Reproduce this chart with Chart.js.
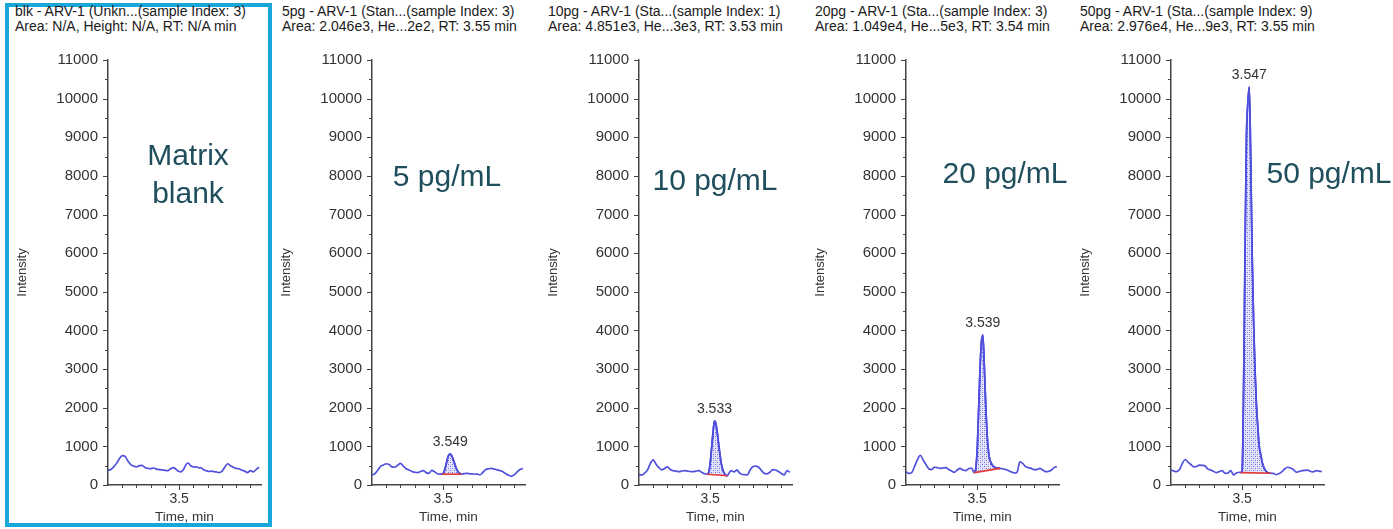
<!DOCTYPE html>
<html><head><meta charset="utf-8">
<script src="https://cdn.jsdelivr.net/npm/chart.js@4.4.1/dist/chart.umd.min.js"></script>
<style>
html,body{margin:0;padding:0;background:#fff;width:1393px;height:529px;overflow:hidden;font-family:"Liberation Sans",Arial,sans-serif;}
canvas{position:absolute;}
.ttl{position:absolute;font-size:14px;color:#1a1a1a;white-space:nowrap;line-height:15px;}
.ann{position:absolute;font-size:30px;color:#1f4e5c;white-space:nowrap;text-align:center;transform:translate(-50%,-50%);line-height:38px;}
#box{position:absolute;left:5px;top:3px;width:259px;height:516px;border:4px solid #17a7d8;}
</style></head><body>
<div id="box"></div>
<script>
// ---- data ----
const times = [3.00,3.02,3.04,3.06,3.08,3.10,3.12,3.14,3.16,3.18,3.20,3.22,3.24,3.26,3.28,3.30,3.32,3.34,3.36,3.38,3.40,3.42,3.44,3.46,3.48,
  3.49,3.50,3.51,3.52,3.53,3.54,3.55,3.56,3.57,3.58,3.59,3.60,3.61,3.62,3.63,3.64,3.65,3.66,3.67,3.68,3.69,3.70,3.71,
  3.72,3.74,3.76,3.78,3.80,3.82,3.84,3.86,3.88,3.90,3.92,3.94,3.96,3.98,4.00,4.02,4.04,4.06];

const blankTrace = [380,400,470,560,680,760,740,620,530,490,470,500,510,450,430,420,440,410,400,390,380,370,420,450,400,
  370,350,340,360,400,470,540,570,550,500,480,470,460,470,460,440,450,430,400,380,370,360,350,
  360,350,340,320,350,460,550,500,460,430,420,380,360,320,370,340,400,460];

const pg5Trace = [260,290,380,480,520,550,530,470,460,510,560,490,420,390,350,330,320,350,370,320,300,380,340,290,280,
  280,300,380,520,680,780,800,760,670,560,450,370,320,290,280,290,295,300,300,295,290,290,285,
  285,280,265,330,400,420,430,410,390,370,345,290,250,225,270,340,400,430];

const pg10Trace = [260,260,310,390,560,650,540,450,390,430,470,400,370,360,345,360,370,360,350,345,360,370,330,290,280,
  330,560,950,1350,1660,1600,1350,1050,760,520,380,300,250,240,290,350,370,350,340,370,390,340,300,
  280,270,260,380,480,490,460,380,300,290,330,400,390,350,300,260,370,330];

const pg20Trace = [345,300,320,480,650,770,650,530,420,400,460,450,430,440,450,400,360,330,390,430,390,370,420,440,320,
  420,900,1900,3000,3700,3880,3100,2100,1300,850,650,560,500,470,450,440,435,430,425,420,410,400,390,
  370,340,310,330,600,560,475,450,430,400,400,430,390,345,350,380,450,480];

const pg50Trace = [390,360,345,400,560,660,590,530,470,480,515,510,490,410,390,350,320,350,370,300,310,370,260,310,330,
  320,400,2500,6000,9000,9900,10300,8500,6000,4300,3000,2100,1500,1000,800,600,480,400,350,320,310,305,300,
  300,265,300,345,420,460,440,400,330,350,370,380,385,350,340,370,360,345];

const titleLine1 = ["blk - ARV-1 (Unkn...(sample Index: 3)","5pg - ARV-1 (Stan...(sample Index: 3)","10pg - ARV-1 (Sta...(sample Index: 1)","20pg - ARV-1 (Sta...(sample Index: 3)","50pg - ARV-1 (Sta...(sample Index: 9)"];
const titleLine2 = ["Area: N/A, Height: N/A, RT: N/A min","Area: 2.046e3, He...2e2, RT: 3.55 min","Area: 4.851e3, He...3e3, RT: 3.53 min","Area: 1.049e4, He...5e3, RT: 3.54 min","Area: 2.976e4, He...9e3, RT: 3.55 min"];
const concLabels = ["Matrix<br>blank","5 pg/mL","10 pg/mL","20 pg/mL","50 pg/mL"];
const peakRT = [null,"3.549","3.533","3.539","3.547"];
const peakStart = [null,3.49,3.48,3.48,3.49];
const peakEnd = [null,3.63,3.62,3.66,3.70];
const yTickValues = [0,1000,2000,3000,4000,5000,6000,7000,8000,9000,10000,11000];
const yMinorTicks = [500,1500,2500,3500,4500,5500,6500,7500,8500,9500,10500];
const xLabelTicks = [3.5];
const xMinorTicks = [3.1,3.2,3.3,3.4,3.6,3.7,3.8,3.9,4.0];

const traces = [blankTrace,pg5Trace,pg10Trace,pg20Trace,pg50Trace];

// ---- layout ----
const axisX = [108,372,639,906,1171];
const titleX = [15,282,548,815,1080];
const annPos = [[188,174],[447,176],[715,180],[1005,173],[1329,173]];
const FONT = '"Liberation Sans", Arial, sans-serif';

function makePattern(){
  const c = document.createElement('canvas'); c.width=4; c.height=4;
  const g = c.getContext('2d');
  g.fillStyle='#e6e6fb'; g.fillRect(0,0,4,4);
  g.fillStyle='#6e6ee2'; g.fillRect(0,0,1,1); g.fillRect(2,2,1,1);
  g.fillStyle='#b4b4ef'; g.fillRect(2,0,1,1); g.fillRect(0,2,1,1);
  return g.createPattern(c,'repeat');
}

const tickPlugin = {
  id:'customTicks',
  afterDraw(chart){
    const ctx = chart.ctx, x = chart.scales.x, y = chart.scales.y, ca = chart.chartArea;
    ctx.save();
    ctx.strokeStyle = '#444'; ctx.lineWidth = 1;
    ctx.beginPath();
    yTickValues.forEach(v=>{ const py = Math.round(y.getPixelForValue(v))+0.5; ctx.moveTo(ca.left-5,py); ctx.lineTo(ca.left,py); });
    yMinorTicks.forEach(v=>{ const py = Math.round(y.getPixelForValue(v))+0.5; ctx.moveTo(ca.left-3,py); ctx.lineTo(ca.left,py); });
    xLabelTicks.forEach(v=>{ const px = Math.round(x.getPixelForValue(v))+0.5; ctx.moveTo(px,ca.bottom); ctx.lineTo(px,ca.bottom+5); });
    xMinorTicks.forEach(v=>{ const px = Math.round(x.getPixelForValue(v))+0.5; ctx.moveTo(px,ca.bottom); ctx.lineTo(px,ca.bottom+3); });
    ctx.stroke();
    const i = chart.options.plugins.customTicks.panel;
    if (peakRT[i]) {
      const tr = traces[i];
      let best = -1;
      times.forEach((t,k)=>{ if (t>=peakStart[i]-1e-9 && t<=peakEnd[i]+1e-9 && (best<0 || tr[k]>tr[best])) best = k; });
      const px = x.getPixelForValue(times[best]), py = y.getPixelForValue(tr[best]);
      ctx.fillStyle = '#333'; ctx.font = '14px '+FONT; ctx.textAlign='center'; ctx.textBaseline='middle';
      ctx.fillText(peakRT[i], px, py-12);
    }
    ctx.restore();
  }
};

const pattern = makePattern();

for (let i=0;i<5;i++){
  const t1 = document.createElement('div'); t1.className='ttl'; t1.style.left=titleX[i]+'px'; t1.style.top='4px'; t1.textContent=titleLine1[i]; document.body.appendChild(t1);
  const t2 = document.createElement('div'); t2.className='ttl'; t2.style.left=titleX[i]+'px'; t2.style.top='19px'; t2.textContent=titleLine2[i]; document.body.appendChild(t2);
  const a = document.createElement('div'); a.className='ann'; a.style.left=annPos[i][0]+'px'; a.style.top=annPos[i][1]+'px'; a.innerHTML=concLabels[i]; document.body.appendChild(a);

  const cv = document.createElement('canvas');
  cv.width = 260; cv.height = 486;
  cv.style.left = (axisX[i]-100)+'px'; cv.style.top='40px';
  document.body.insertBefore(cv, a);

  const tr = traces[i];
  const pts = times.map((t,k)=>({x:t,y:tr[k]}));
  const datasets = [{data:pts, borderColor:'#5050de', borderWidth:1.7, pointRadius:0, cubicInterpolationMode:'monotone', fill:false, order:1}];
  if (peakStart[i]!=null){
    const seg = pts.filter(p=>p.x>=peakStart[i]-1e-9 && p.x<=peakEnd[i]+1e-9);
    const base = [seg[0], seg[seg.length-1]].map(p=>({x:p.x,y:p.y}));
    datasets.push({data:seg, borderColor:'#3030d0', borderWidth:1.7, pointRadius:0, cubicInterpolationMode:'monotone', fill:2, backgroundColor:pattern, order:2});
    datasets.push({data:base, borderColor:'#e53935', borderWidth:1.6, pointRadius:0, fill:false, order:0});
  }

  new Chart(cv, {
    type:'line',
    data:{datasets},
    options:{
      responsive:false, animation:false, devicePixelRatio:1,
      layout:{padding:{left:0,right:7,top:20,bottom:0}},
      plugins:{legend:{display:false}, tooltip:{enabled:false}, customTicks:{panel:i}},
      scales:{
        x:{type:'linear', min:3.0, max:4.075,
          afterBuildTicks:s=>{ s.ticks = xLabelTicks.map(v=>({value:v})); },
          afterFit:s=>{ s.height = 41; },
          grid:{display:true, drawOnChartArea:false, drawTicks:true, tickLength:3, tickColor:'rgba(0,0,0,0)'},
          border:{display:true, color:'#444', width:1.5},
          ticks:{padding:3, color:'#333', font:{family:FONT,size:14}, maxRotation:0, autoSkip:false, callback:v=>Number(v).toFixed(1)},
          title:{display:true, text:'Time, min', color:'#333', font:{family:FONT,size:13.5}, padding:{top:0,bottom:1}}
        },
        y:{type:'linear', min:0, max:11000,
          afterBuildTicks:s=>{ s.ticks = yTickValues.map(v=>({value:v})); },
          afterFit:s=>{ s.width = 100; },
          grid:{display:true, drawOnChartArea:false, drawTicks:true, tickLength:5, tickColor:'rgba(0,0,0,0)'},
          border:{display:true, color:'#444', width:1.5},
          ticks:{padding:5, color:'#333', font:{family:FONT,size:15}, autoSkip:false, callback:v=>String(v)},
          title:{display:true, text:'Intensity', color:'#333', font:{family:FONT,size:13}, padding:{top:7,bottom:0}}
        }
      }
    },
    plugins:[tickPlugin]
  });
}
</script>
</body></html>
